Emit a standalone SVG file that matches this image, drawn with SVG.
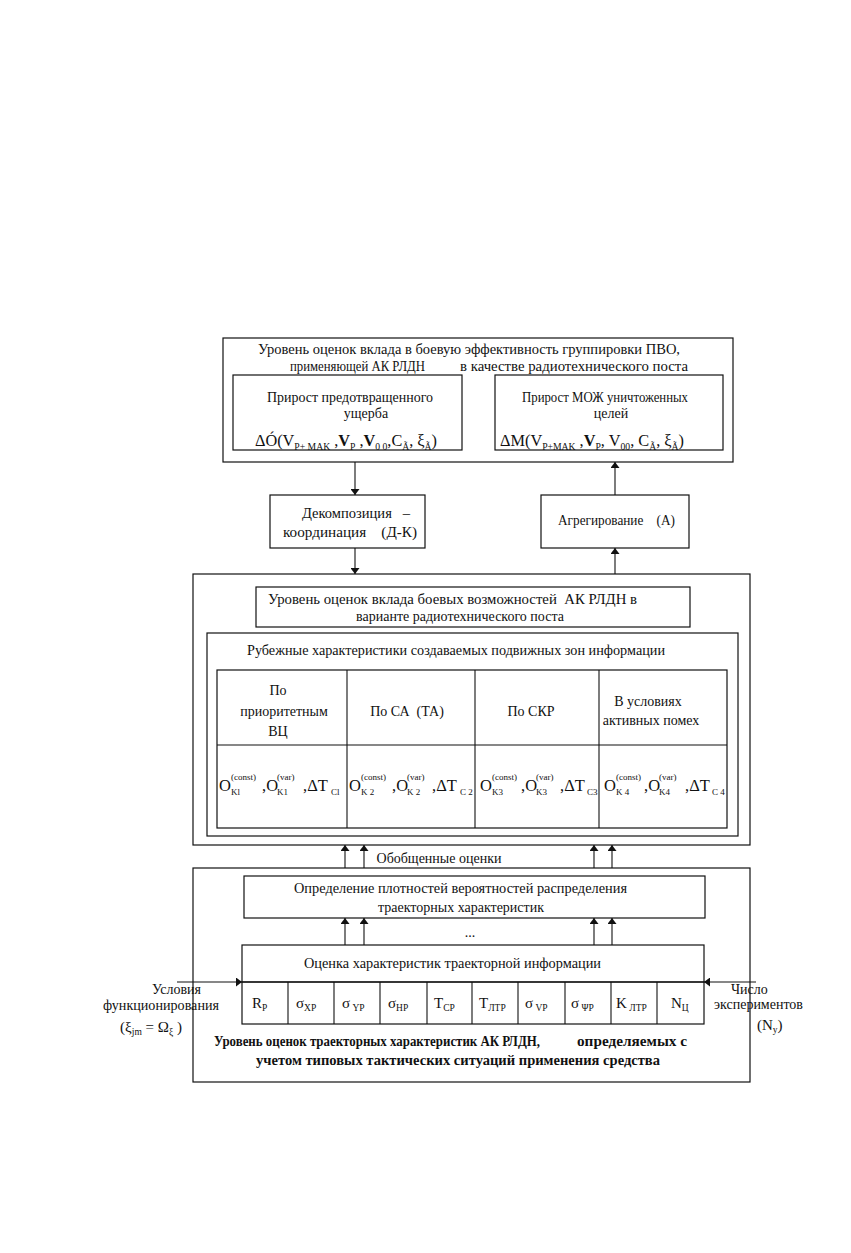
<svg xmlns="http://www.w3.org/2000/svg" width="851" height="1253" viewBox="0 0 851 1253">
<defs>
<style>
text{font-family:"Liberation Serif","Times New Roman",serif;fill:#111;}
.t{font-size:14px;}
.c{text-anchor:middle;}
.b{font-weight:bold;}
.f{font-size:16px;}
.s{font-size:9.5px;}
.box{fill:none;stroke:#111;stroke-width:1.2;}
.ln{fill:none;stroke:#111;stroke-width:1.1;}
</style>
<marker id="ah" viewBox="0 0 10 10" refX="10" refY="5" markerWidth="6" markerHeight="9" markerUnits="userSpaceOnUse" orient="auto" preserveAspectRatio="none">
<path d="M0,0 L10,5 L0,10 z" fill="#111"/>
</marker>
</defs>
<rect width="851" height="1253" fill="#fff"/>

<g id="top-level">
<rect class="box" x="223" y="338" width="510" height="124"/>
<text class="t c" x="469" y="354" textLength="422" lengthAdjust="spacingAndGlyphs">Уровень оценок вклада в боевую эффективность группировки ПВО,</text>
<text class="t" x="290" y="371" textLength="135" lengthAdjust="spacingAndGlyphs">применяющей АК РЛДН</text>
<text class="t" x="460" y="371" textLength="228" lengthAdjust="spacingAndGlyphs">в качестве радиотехнического поста</text>
</g>

<g id="prevented-damage">
<rect class="box" x="233" y="375" width="229" height="75"/>
<text class="t c" x="350" y="402" textLength="166" lengthAdjust="spacingAndGlyphs">Прирост предотвращенного</text>
<text class="t c" x="366" y="418">ущерба</text>
<text x="255" y="446" class="f" textLength="182" lengthAdjust="spacingAndGlyphs">ΔÓ(V<tspan class="s" dy="4">P+ MAK</tspan><tspan dy="-4"> ,</tspan><tspan font-weight="bold">V</tspan><tspan class="s" dy="4">P</tspan><tspan dy="-4"> ,</tspan><tspan font-weight="bold">V</tspan><tspan class="s" dy="4">0 0</tspan><tspan dy="-4">,C</tspan><tspan class="s" dy="4">Ã</tspan><tspan dy="-4">, ξ</tspan><tspan class="s" dy="4">Ã</tspan><tspan dy="-4">)</tspan></text>
</g>

<g id="destroyed-targets">
<rect class="box" x="495" y="375" width="228" height="75"/>
<text class="t c" x="605" y="402" textLength="166" lengthAdjust="spacingAndGlyphs">Прирост МОЖ уничтоженных</text>
<text class="t c" x="611" y="418">целей</text>
<text x="500" y="446" class="f" textLength="184" lengthAdjust="spacingAndGlyphs">ΔM(V<tspan class="s" dy="4">P+MAK</tspan><tspan dy="-4"> ,</tspan><tspan font-weight="bold">V</tspan><tspan class="s" dy="4">P</tspan><tspan dy="-4">, V</tspan><tspan class="s" dy="4">00</tspan><tspan dy="-4">, C</tspan><tspan class="s" dy="4">Ã</tspan><tspan dy="-4">, ξ</tspan><tspan class="s" dy="4">Ã</tspan><tspan dy="-4">)</tspan></text>
</g>

<g id="decomposition">
<rect class="box" x="270" y="495" width="155" height="53"/>
<text class="t" x="302" y="518" xml:space="preserve" textLength="108" lengthAdjust="spacingAndGlyphs">Декомпозиция   –</text>
<text class="t" x="283" y="537" xml:space="preserve" textLength="134" lengthAdjust="spacingAndGlyphs">координация    (Д-К)</text>
</g>

<g id="aggregation">
<rect class="box" x="541" y="495" width="148" height="53"/>
<text class="t" x="558" y="525" xml:space="preserve" textLength="117" lengthAdjust="spacingAndGlyphs">Агрегирование    (А)</text>
</g>

<g id="mid-level">
<rect class="box" x="193" y="574" width="557" height="271"/>
<rect class="box" x="256" y="587" width="434" height="40"/>
<text class="t" x="268" y="604" xml:space="preserve" textLength="369" lengthAdjust="spacingAndGlyphs">Уровень оценок вклада боевых возможностей  АК РЛДН в</text>
<text class="t c" x="460" y="621">варианте радиотехнического поста</text>
</g>

<g id="zones">
<rect class="box" x="207" y="633" width="531" height="203"/>
<text class="t c" x="456" y="655" textLength="418" lengthAdjust="spacingAndGlyphs">Рубежные характеристики создаваемых подвижных зон информации</text>
<rect class="box" x="217" y="670" width="510" height="158"/>
<line class="ln" x1="217" y1="745" x2="727" y2="745"/>
<line class="ln" x1="347" y1="670" x2="347" y2="828"/>
<line class="ln" x1="475" y1="670" x2="475" y2="828"/>
<line class="ln" x1="599" y1="670" x2="599" y2="828"/>
<text class="t c" x="278" y="695">По</text>
<text class="t c" x="284" y="716">приоритетным</text>
<text class="t c" x="278" y="736">ВЦ</text>
<text class="t c" x="407" y="716" xml:space="preserve">По СА  (ТА)</text>
<text class="t c" x="531" y="716">По СКР</text>
<text class="t c" x="648" y="706">В условиях</text>
<text class="t c" x="651" y="725">активных помех</text>
</g>

<g id="zone-values">
<g font-size="16.5">
<text x="219" y="791">O</text><text x="262" y="791">,O</text><text x="303" y="791">,ΔT</text>
<text x="349" y="791">O</text><text x="392" y="791">,O</text><text x="432" y="791">,ΔT</text>
<text x="480" y="791">O</text><text x="521" y="791">,O</text><text x="560" y="791">,ΔT</text>
<text x="604" y="791">O</text><text x="644" y="791">,O</text><text x="685" y="791">,ΔT</text>
</g>
<g font-size="9">
<text x="231" y="780">(const)</text><text x="231" y="795">Kl</text>
<text x="277" y="780">(var)</text><text x="277" y="795">K1</text>
<text x="331" y="795">Cl</text>
<text x="361" y="780">(const)</text><text x="361" y="795">K 2</text>
<text x="407" y="780">(var)</text><text x="407" y="795">K 2</text>
<text x="460" y="795">C 2</text>
<text x="492" y="780">(const)</text><text x="492" y="795">K3</text>
<text x="536" y="780">(var)</text><text x="536" y="795">K3</text>
<text x="587" y="795">C3</text>
<text x="616" y="780">(const)</text><text x="616" y="795">K 4</text>
<text x="659" y="780">(var)</text><text x="659" y="795">K4</text>
<text x="712" y="795">C 4</text>
</g>
</g>

<g id="bottom-level">
<rect class="box" x="193" y="868" width="557" height="214"/>
<text class="t b" x="214" y="1046" textLength="326" lengthAdjust="spacingAndGlyphs">Уровень оценок траекторных характеристик АК РЛДН,</text>
<text class="t b" x="577" y="1046" textLength="110" lengthAdjust="spacingAndGlyphs">определяемых с</text>
<text class="t b" x="256" y="1065" textLength="404" lengthAdjust="spacingAndGlyphs">учетом типовых тактических ситуаций применения средства</text>
</g>

<g id="density">
<rect class="box" x="244" y="876" width="461" height="42"/>
<text class="t" x="294" y="893" textLength="333" lengthAdjust="spacingAndGlyphs">Определение плотностей вероятностей распределения</text>
<text class="t c" x="461" y="912">траекторных характеристик</text>
</g>

<g id="trajectory-estimate">
<rect class="box" x="242" y="945" width="462" height="37"/>
<text class="t" x="304" y="968" textLength="297" lengthAdjust="spacingAndGlyphs">Оценка характеристик траекторной информации</text>
<rect class="box" x="242" y="982" width="462" height="42"/>
<g class="ln">
<line x1="288" y1="982" x2="288" y2="1024"/><line x1="334" y1="982" x2="334" y2="1024"/>
<line x1="380" y1="982" x2="380" y2="1024"/><line x1="427" y1="982" x2="427" y2="1024"/>
<line x1="472" y1="982" x2="472" y2="1024"/><line x1="518" y1="982" x2="518" y2="1024"/>
<line x1="565" y1="982" x2="565" y2="1024"/><line x1="611" y1="982" x2="611" y2="1024"/>
<line x1="657" y1="982" x2="657" y2="1024"/>
</g>
<g font-size="15">
<text x="252" y="1008">R<tspan class="s" dy="3">P</tspan></text>
<text x="296" y="1008">σ<tspan class="s" dy="3">XP</tspan></text>
<text x="342" y="1008">σ<tspan class="s" dy="3"> YP</tspan></text>
<text x="388" y="1008">σ<tspan class="s" dy="3">HP</tspan></text>
<text x="434" y="1008">T<tspan class="s" dy="3">CP</tspan></text>
<text x="479" y="1008">T<tspan class="s" dy="3">ЛТР</tspan></text>
<text x="525" y="1008">σ<tspan class="s" dy="3"> VP</tspan></text>
<text x="571" y="1008">σ<tspan class="s" dy="3"> ΨP</tspan></text>
<text x="616" y="1008">K<tspan class="s" dy="3"> ЛТР</tspan></text>
<text x="671" y="1008">N<tspan class="s" dy="3">Ц</tspan></text>
</g>
</g>

<g id="conditions">
<text class="t" x="152" y="994">Условия</text>
<text class="t" x="103" y="1010" textLength="116" lengthAdjust="spacingAndGlyphs">функционирования</text>
<text class="c" x="151" y="1032" font-size="15">(ξ<tspan class="s" dy="3">jm</tspan><tspan dy="-3"> = Ω</tspan><tspan class="s" dy="3">ξ</tspan><tspan dy="-3"> )</tspan></text>
</g>

<g id="experiments">
<text class="t" x="731" y="994">Число</text>
<text class="t" x="714" y="1009">экспериментов</text>
<text x="757" y="1030" font-size="15">(N<tspan class="s" dy="3">y</tspan><tspan dy="-3">)</tspan></text>
</g>

<g id="connectors" class="ln">
<line x1="355" y1="462" x2="355" y2="495" marker-end="url(#ah)"/>
<line x1="615" y1="495" x2="615" y2="462" marker-end="url(#ah)"/>
<line x1="355" y1="548" x2="355" y2="574" marker-end="url(#ah)"/>
<line x1="615" y1="574" x2="615" y2="548" marker-end="url(#ah)"/>
<line x1="345" y1="868" x2="345" y2="845" marker-end="url(#ah)"/>
<line x1="364" y1="868" x2="364" y2="845" marker-end="url(#ah)"/>
<line x1="594" y1="868" x2="594" y2="845" marker-end="url(#ah)"/>
<line x1="612" y1="868" x2="612" y2="845" marker-end="url(#ah)"/>
<line x1="345" y1="945" x2="345" y2="918" marker-end="url(#ah)"/>
<line x1="364" y1="945" x2="364" y2="918" marker-end="url(#ah)"/>
<line x1="594" y1="945" x2="594" y2="918" marker-end="url(#ah)"/>
<line x1="612" y1="945" x2="612" y2="918" marker-end="url(#ah)"/>
<line x1="177" y1="982" x2="242" y2="982" marker-end="url(#ah)"/>
<line x1="756" y1="982" x2="704" y2="982" marker-end="url(#ah)"/>
</g>
<text class="t c" x="439" y="863">Обобщенные оценки</text>
<text class="t c" x="470" y="937">...</text>
</svg>
